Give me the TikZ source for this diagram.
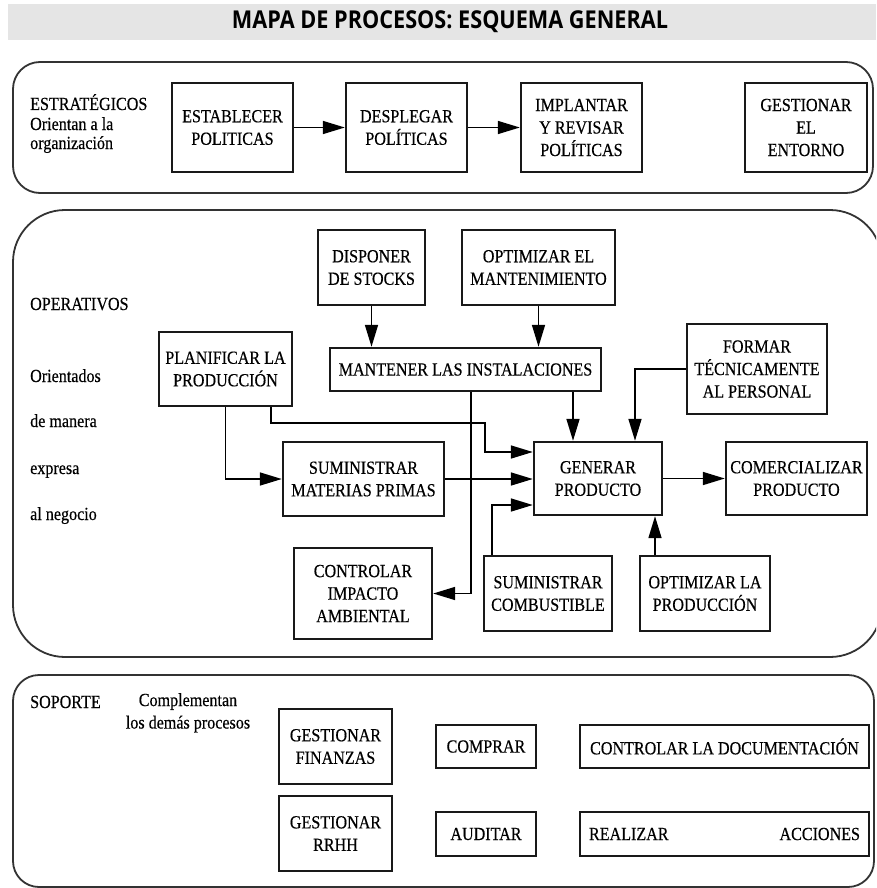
\documentclass[tikz,border=0pt]{standalone}
\usepackage{fontspec}
\setmainfont[FakeStretch=0.87,FakeBold=0.4]{Liberation Serif}
\newfontfamily\titlefont[FakeStretch=0.88]{Open Sans}
\usetikzlibrary{arrows.meta,calc}
\newcommand\bodyfont{\fontsize{18.5}{22.5}\selectfont}
\begin{document}
\begin{tikzpicture}[x=1pt,y=-1pt,
  procbox/.style={draw=black!90, line width=2.4pt, align=center, inner sep=0pt, font=\bodyfont, text=black},
  arr/.style={draw=black, line width=1.6pt, -{Triangle[length=22pt,width=13pt]}},
  section/.style={draw=black!80, line width=1.8pt},
  lbl/.style={anchor=base west, inner sep=0pt, font=\bodyfont, text=black},
]
\useasboundingbox (0,0) rectangle (876,888);
\clip (0,0) rectangle (876,888);

% title
\fill[black!10] (8,4) rectangle (876,40);
\node[inner sep=0pt] (title) at (450,22) {\resizebox{436pt}{!}{\titlefont\bfseries MAPA DE PROCESOS: ESQUEMA GENERAL}};

% sections
\draw[section, rounded corners=27pt] (13,62) rectangle (873,193);
\draw[section, rounded corners=52pt] (13,210) rectangle (882,657);
\draw[section, rounded corners=26pt] (13,675) rectangle (874,887);

% strategic
\node[lbl] (l1) at (30,110) {ESTRATÉGICOS};
\node[lbl] (l2) at (30,130) {Orientan a la};
\node[lbl] (l3) at (30,149) {organización};
\node[procbox, minimum width=121pt, minimum height=89pt] (est) at (232.5,127.5) {ESTABLECER\\POLITICAS};
\node[procbox, minimum width=121pt, minimum height=89pt] (des) at (406.5,127.5) {DESPLEGAR\\POLÍTICAS};
\node[procbox, minimum width=121pt, minimum height=89pt] (imp) at (581.5,127.5) {IMPLANTAR\\Y REVISAR\\POLÍTICAS};
\node[procbox, minimum width=122pt, minimum height=89pt] (ent) at (806,127.5) {GESTIONAR\\EL\\ENTORNO};
\draw[arr] (est) -- (des);
\draw[arr] (des) -- (imp);

% operative labels
\node[lbl] (o1) at (30,310) {OPERATIVOS};
\node[lbl] (o2) at (30,382) {Orientados};
\node[lbl] (o3) at (30,427) {de manera};
\node[lbl] (o4) at (30,474) {expresa};
\node[lbl] (o5) at (30,520) {al negocio};

% operative boxes
\node[procbox, minimum width=107pt, minimum height=75pt] (disp) at (371.5,267.5) {DISPONER\\DE STOCKS};
\node[procbox, minimum width=153pt, minimum height=75pt] (optm) at (538.5,267.5) {OPTIMIZAR EL\\MANTENIMIENTO};
\node[procbox, minimum width=271pt, minimum height=43pt] (mant) at (465.5,369.5) {MANTENER LAS INSTALACIONES};
\node[procbox, minimum width=133pt, minimum height=74pt] (plan) at (225.5,369) {PLANIFICAR LA\\PRODUCCIÓN};
\node[procbox, minimum width=140pt, minimum height=90pt] (form) at (757,369) {FORMAR\\TÉCNICAMENTE\\AL PERSONAL};
\node[procbox, minimum width=161pt, minimum height=74pt] (smp) at (363.5,479) {SUMINISTRAR\\MATERIAS PRIMAS};
\node[procbox, minimum width=128pt, minimum height=73pt] (gen) at (598,478.5) {GENERAR\\PRODUCTO};
\node[procbox, minimum width=141pt, minimum height=73pt] (com) at (796.5,478.5) {COMERCIALIZAR\\PRODUCTO};
\node[procbox, minimum width=138pt, minimum height=91pt] (cia) at (363,593.5) {CONTROLAR\\IMPACTO\\AMBIENTAL};
\node[procbox, minimum width=128pt, minimum height=75pt] (scb) at (548,593.5) {SUMINISTRAR\\COMBUSTIBLE};
\node[procbox, minimum width=130pt, minimum height=75pt] (opp) at (705,593.5) {OPTIMIZAR LA\\PRODUCCIÓN};

% operative connectors
\draw[arr] (disp.south) -- (disp.south |- mant.north);
\draw[arr] (optm.south) -- (optm.south |- mant.north);
\draw[arr] ([xshift=-25pt]gen.north |- mant.south) -- ([xshift=-25pt]gen.north);
\draw[arr] (form.west) -| ([xshift=37pt]gen.north);
\draw[arr] ([xshift=5.5pt]mant.south) |- (cia.east);
\coordinate (j1) at (485,423);
\draw[arr] ([xshift=45.5pt]plan.south) |- (j1) |- ([yshift=26.5pt]gen.west);
\draw[arr] (plan.south) |- (smp.west);
\draw[arr] (smp.east) -- (smp.east -| gen.west);
\draw[arr] ([xshift=-56pt]scb.north) |- ([yshift=-26.5pt]gen.west);
\draw[arr] ([xshift=-50pt]opp.north) -- ([xshift=-50pt]opp.north |- gen.south);
\draw[arr] (gen.east) -- (com.west);

% support
\node[lbl] (s1) at (30,708) {SOPORTE};
\node[inner sep=0pt, font=\bodyfont, align=center, anchor=north] (s2) at (188,693) {Complementan\\los demás procesos};
\node[procbox, minimum width=113pt, minimum height=75pt] (fin) at (335.5,746.5) {GESTIONAR\\FINANZAS};
\node[procbox, minimum width=113pt, minimum height=75pt] (rrhh) at (335.5,833.5) {GESTIONAR\\RRHH};
\node[procbox, minimum width=100pt, minimum height=43pt] (comp) at (486,746.5) {COMPRAR};
\node[procbox, minimum width=100pt, minimum height=44pt] (aud) at (486,834) {AUDITAR};
\node[procbox, minimum width=289pt, minimum height=43pt] (doc) at (724.5,746.5) {CONTROLAR LA DOCUMENTACIÓN};
\node[procbox, minimum width=289pt, minimum height=44pt] (acc) at (724.5,834) {\makebox[271pt]{REALIZAR\hfill ACCIONES}};
\end{tikzpicture}
\end{document}
